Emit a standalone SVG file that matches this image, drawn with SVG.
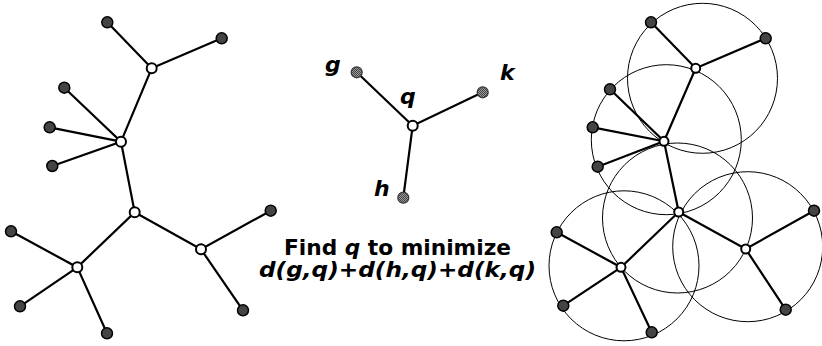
<svg xmlns="http://www.w3.org/2000/svg" width="822" height="346" viewBox="0 0 822 346">
<style>
.e{stroke:#000;stroke-width:2.2;fill:none;stroke-linecap:round}
.leaf{fill:#444;stroke:#000;stroke-width:1.5}
.in{fill:#fff;stroke:#000;stroke-width:2}
.st{fill:url(#stip);stroke:#333;stroke-width:1.2}
.ring{fill:none;stroke:#000;stroke-width:1}
.lbl{font-family:"DejaVu Sans",sans-serif;font-weight:bold;font-style:italic;font-size:22px;fill:#000}
.t{font-family:"DejaVu Sans",sans-serif;font-weight:bold;font-size:22px;fill:#000}
</style>
<defs>
<pattern id="stip" width="2" height="2" patternUnits="userSpaceOnUse">
<rect width="2" height="2" fill="#999"/>
<rect width="1" height="1" fill="#444"/>
<rect x="1" y="1" width="1" height="1" fill="#444"/>
</pattern>
</defs>
<g id="connectors">
<path class="e" d="M107.3,22.3L151.7,68.3L221.7,38.3M151.7,68.3L121,141.7M64.3,87.7L121,141.7L49.7,127.3M52.3,166L121,141.7L134.7,212.3L77.3,267.3L11,231.3M20,306.3L77.3,267.3L107,333.3M134.7,212.3L201,249.3L270.7,210.7M201,249.3L243,310.3"/>
<path class="e" d="M356.7,72.3L412.7,125.7L482.7,92.3M412.7,125.7L403.3,197.7"/>
<path class="e" d="M651,22.3L695.7,68.3L765.7,38.3M695.7,68.3L664,141.3M610,89.3L664,141.3L592.7,127.3M597.7,166.7L664,141.3L678.7,212L621,267.3L556.7,232.3M563.3,305.7L621,267.3L651.7,332.3M678.7,212L745.7,249L814,210.7M745.7,249L785.7,309.7"/>
</g>
<g id="rings">
<circle class="ring" cx="702.5" cy="78.3" r="75"/>
<circle class="ring" cx="666.3" cy="139.7" r="75"/>
<circle class="ring" cx="677.5" cy="218" r="75"/>
<circle class="ring" cx="624" cy="265.8" r="75"/>
<circle class="ring" cx="747.7" cy="246.7" r="75"/>
</g>
<g id="left-tree">
<circle class="leaf" cx="107.3" cy="22.3" r="5.5"/>
<circle class="leaf" cx="221.7" cy="38.3" r="5.5"/>
<circle class="leaf" cx="64.3" cy="87.7" r="5.5"/>
<circle class="leaf" cx="49.7" cy="127.3" r="5.5"/>
<circle class="leaf" cx="52.3" cy="166" r="5.5"/>
<circle class="leaf" cx="11" cy="231.3" r="5.5"/>
<circle class="leaf" cx="20" cy="306.3" r="5.5"/>
<circle class="leaf" cx="107" cy="333.3" r="5.5"/>
<circle class="leaf" cx="270.7" cy="210.7" r="5.5"/>
<circle class="leaf" cx="243" cy="310.3" r="5.5"/>
<circle class="in" cx="151.7" cy="68.3" r="5"/>
<circle class="in" cx="121" cy="141.7" r="5"/>
<circle class="in" cx="134.7" cy="212.3" r="5"/>
<circle class="in" cx="77.3" cy="267.3" r="5"/>
<circle class="in" cx="201" cy="249.3" r="5"/>
</g>
<g id="middle">
<circle class="st" cx="356.7" cy="72.3" r="5.5"/>
<circle class="st" cx="482.7" cy="92.3" r="5.5"/>
<circle class="st" cx="403.3" cy="197.7" r="5.5"/>
<circle class="in" cx="412.7" cy="125.7" r="5"/>
<text class="lbl" x="325" y="72">g</text>
<text class="lbl" x="500" y="80">k</text>
<text class="lbl" x="400" y="104">q</text>
<text class="lbl" x="374" y="196">h</text>
<text class="t" x="284" y="255" textLength="227" lengthAdjust="spacingAndGlyphs">Find <tspan font-style="italic">q</tspan> to minimize</text>
<text class="t" x="259" y="277" font-size="23.5" font-style="italic" textLength="277" lengthAdjust="spacingAndGlyphs">d(g,q)+d(h,q)+d(k,q)</text>
</g>
<g id="right-tree">
<circle class="leaf" cx="651" cy="22.3" r="5.5"/>
<circle class="leaf" cx="765.7" cy="38.3" r="5.5"/>
<circle class="leaf" cx="610" cy="89.3" r="5.5"/>
<circle class="leaf" cx="592.7" cy="127.3" r="5.5"/>
<circle class="leaf" cx="597.7" cy="166.7" r="5.5"/>
<circle class="leaf" cx="556.7" cy="232.3" r="5.5"/>
<circle class="leaf" cx="563.3" cy="305.7" r="5.5"/>
<circle class="leaf" cx="651.7" cy="332.3" r="5.5"/>
<circle class="leaf" cx="814" cy="210.7" r="5.5"/>
<circle class="leaf" cx="785.7" cy="309.7" r="5.5"/>
<circle class="in" cx="695.7" cy="68.3" r="4.5"/>
<circle class="in" cx="664" cy="141.3" r="4.5"/>
<circle class="in" cx="678.7" cy="212" r="4.5"/>
<circle class="in" cx="621" cy="267.3" r="4.5"/>
<circle class="in" cx="745.7" cy="249" r="4.5"/>
</g>
</svg>
